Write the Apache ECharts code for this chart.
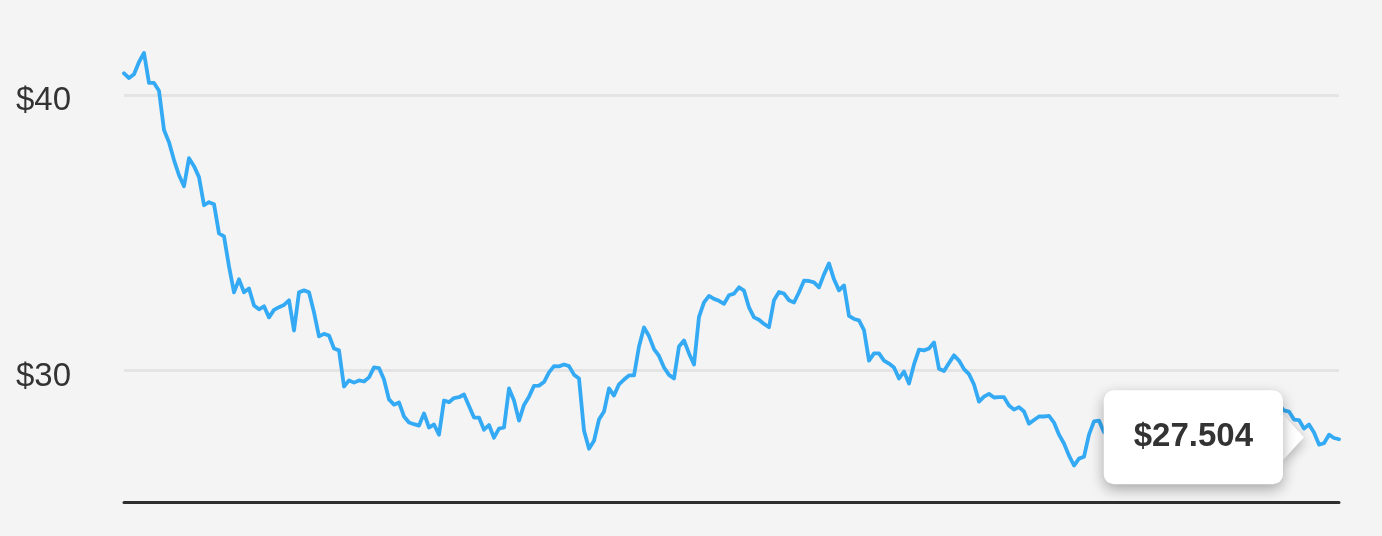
<!DOCTYPE html>
<html>
<head>
<meta charset="utf-8">
<script src="https://cdn.jsdelivr.net/npm/echarts@6/dist/echarts.min.js"></script>
<style>
  html, body { margin: 0; padding: 0; background: #f4f4f4; }
  #chart { width: 1382px; height: 536px; }
</style>
</head>
<body>
<div id="chart"></div>
<script>
// Price series (one point per trading day)
const prices = [
  40.79, 40.62, 40.76, 41.20, 41.53, 40.44, 40.44, 40.16, 38.73, 38.29,
  37.64, 37.09, 36.69, 37.71, 37.42, 37.02, 36.00, 36.11, 36.04, 34.98,
  34.87, 33.78, 32.84, 33.31, 32.84, 32.98, 32.36, 32.22, 32.33, 31.93,
  32.20, 32.30, 32.38, 32.55, 31.45, 32.84, 32.91, 32.84, 32.11, 31.24,
  31.33, 31.27, 30.80, 30.73, 29.42, 29.64, 29.56, 29.64, 29.60, 29.75,
  30.11, 30.09, 29.67, 28.95, 28.76, 28.84, 28.33, 28.11, 28.05, 28.00,
  28.44, 27.93, 28.04, 27.67, 28.91, 28.85, 29.00, 29.03, 29.13, 28.71,
  28.29, 28.29, 27.85, 28.02, 27.56, 27.89, 27.93, 29.35, 28.91, 28.18,
  28.75, 29.05, 29.44, 29.45, 29.58, 29.93, 30.16, 30.15, 30.22, 30.16,
  29.85, 29.71, 27.82, 27.16, 27.45, 28.22, 28.51, 29.35, 29.09, 29.50,
  29.67, 29.82, 29.82, 30.87, 31.56, 31.25, 30.78, 30.53, 30.11, 29.84,
  29.71, 30.87, 31.09, 30.62, 30.22, 31.95, 32.47, 32.71, 32.60, 32.53,
  32.42, 32.73, 32.79, 33.02, 32.90, 32.29, 31.93, 31.84, 31.69, 31.57,
  32.55, 32.85, 32.79, 32.55, 32.47, 32.84, 33.26, 33.25, 33.20, 33.02,
  33.49, 33.89, 33.31, 32.91, 33.09, 31.98, 31.87, 31.82, 31.47, 30.36,
  30.62, 30.62, 30.36, 30.25, 30.11, 29.71, 29.96, 29.53, 30.22, 30.76,
  30.73, 30.80, 31.02, 30.06, 29.98, 30.27, 30.55, 30.36, 30.05, 29.87,
  29.49, 28.87, 29.05, 29.15, 29.02, 29.03, 29.03, 28.73, 28.58, 28.67,
  28.51, 28.07, 28.20, 28.33, 28.33, 28.35, 28.11, 27.67, 27.35, 26.91,
  26.55, 26.80, 26.87, 27.67, 28.15, 28.18, 27.76, 27.90, 28.10, 28.30,
  28.20, 28.50, 28.40, 28.60, 28.30, 28.20, 28.00, 27.80, 27.90, 28.10,
  28.40, 28.50, 28.30, 28.60, 28.70, 28.50, 28.40, 28.20, 28.30, 28.10,
  28.00, 28.20, 28.40, 28.60, 28.50, 28.70, 28.80, 28.60, 28.50, 28.70,
  28.80, 28.75, 28.55, 28.51, 28.22, 28.20, 27.89, 28.04, 27.75, 27.31,
  27.36, 27.67, 27.55, 27.504
];
const days = prices.map((_, i) => 'Day ' + (i + 1));
const yTicks = [30, 40];
const tooltipIndex = 236;
const tooltipValue = prices[prices.length - 1];

const chart = echarts.init(document.getElementById('chart'), null, { renderer: 'canvas' });
chart.setOption({
  backgroundColor: '#f4f4f4',
  animation: false,
  grid: { left: 124, right: 43, top: 40, bottom: 33.3, containLabel: false },
  xAxis: {
    type: 'category',
    data: days,
    boundaryGap: false,
    axisLine: { show: true, lineStyle: { color: '#2e2e2e', width: 3 } },
    axisTick: { show: false },
    axisLabel: { show: false },
    splitLine: { show: false }
  },
  yAxis: {
    type: 'value',
    min: 25.2,
    max: 42,
    axisLine: { show: false },
    axisTick: { show: false, customValues: yTicks },
    axisLabel: {
      customValues: yTicks,
      formatter: v => '$' + v,
      fontSize: 33,
      color: '#333',
      fontFamily: 'Liberation Sans, Arial, sans-serif',
      align: 'left',
      verticalAlign: 'top',
      lineHeight: 12,
      margin: 108
    },
    splitLine: { show: true, lineStyle: { color: '#e4e4e4', width: 3 } }
  },
  series: [{
    type: 'line',
    data: prices,
    showSymbol: false,
    symbol: 'none',
    lineStyle: { color: '#34aaf5', width: 3.8, join: 'round', cap: 'round' },
    z: 2,
    markPoint: {
      z: 10,
      data: [{
        coord: [days[tooltipIndex], tooltipValue],
        symbol: 'path://M0,0 L22,22 L0,44 Z',
        symbolSize: [21, 46],
        symbolOffset: [-10.5, -2],
        itemStyle: {
          color: '#ffffff',
          shadowBlur: 12,
          shadowColor: 'rgba(0,0,0,0.28)',
          shadowOffsetY: 4
        },
        label: {
          show: true,
          position: 'left',
          distance: 0,
          formatter: '$' + tooltipValue.toFixed(3),
          fontSize: 33,
          fontWeight: 'bold',
          color: '#333',
          fontFamily: 'Liberation Sans, Arial, sans-serif',
          backgroundColor: '#ffffff',
          borderRadius: 10,
          lineHeight: 36,
          padding: [33, 30, 25, 30],
          shadowBlur: 14,
          shadowColor: 'rgba(0,0,0,0.32)',
          shadowOffsetY: 5
        }
      }]
    }
  }]
});
</script>
</body>
</html>
